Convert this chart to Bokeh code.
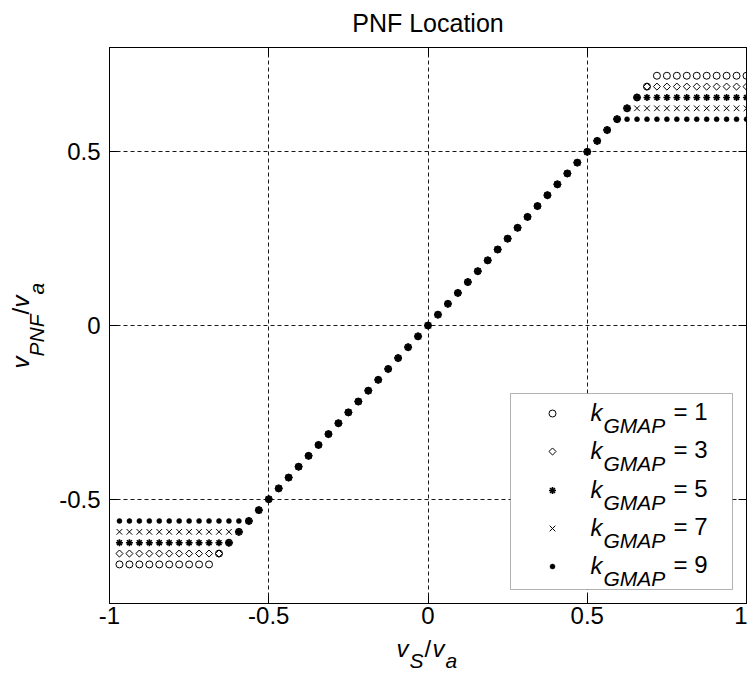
import math
from bokeh.plotting import figure
from bokeh.layouts import column, row
from bokeh.models import Range1d, LinearAxis, Label, BoxAnnotation, FixedTicker
from bokeh.embed import file_html
from bokeh.resources import INLINE

# ---------------- data (values read in units of 1/32) ----------------
vs_va_32 = [-31, -30, -29, -28, -27, -26, -25, -24, -23, -22, -21, -20, -19, -18, -17, -16,
            -15, -14, -13, -12, -11, -10, -9, -8, -7, -6, -5, -4, -3, -2, -1, 0,
            1, 2, 3, 4, 5, 6, 7, 8, 9, 10, 11, 12, 13, 14, 15, 16,
            17, 18, 19, 20, 21, 22, 23, 24, 25, 26, 27, 28, 29, 30, 31, 32]

vpnf_k1_32 = [-22, -22, -22, -22, -22, -22, -22, -22, -22, -22, -21, -20, -19, -18, -17, -16,
              -15, -14, -13, -12, -11, -10, -9, -8, -7, -6, -5, -4, -3, -2, -1, 0,
              1, 2, 3, 4, 5, 6, 7, 8, 9, 10, 11, 12, 13, 14, 15, 16,
              17, 18, 19, 20, 21, 22, 23, 23, 23, 23, 23, 23, 23, 23, 23, 23]
vpnf_k3_32 = [-21, -21, -21, -21, -21, -21, -21, -21, -21, -21, -21, -20, -19, -18, -17, -16,
              -15, -14, -13, -12, -11, -10, -9, -8, -7, -6, -5, -4, -3, -2, -1, 0,
              1, 2, 3, 4, 5, 6, 7, 8, 9, 10, 11, 12, 13, 14, 15, 16,
              17, 18, 19, 20, 21, 22, 22, 22, 22, 22, 22, 22, 22, 22, 22, 22]
vpnf_k5_32 = [-20, -20, -20, -20, -20, -20, -20, -20, -20, -20, -20, -20, -19, -18, -17, -16,
              -15, -14, -13, -12, -11, -10, -9, -8, -7, -6, -5, -4, -3, -2, -1, 0,
              1, 2, 3, 4, 5, 6, 7, 8, 9, 10, 11, 12, 13, 14, 15, 16,
              17, 18, 19, 20, 21, 21, 21, 21, 21, 21, 21, 21, 21, 21, 21, 21]
vpnf_k7_32 = [-19, -19, -19, -19, -19, -19, -19, -19, -19, -19, -19, -19, -19, -18, -17, -16,
              -15, -14, -13, -12, -11, -10, -9, -8, -7, -6, -5, -4, -3, -2, -1, 0,
              1, 2, 3, 4, 5, 6, 7, 8, 9, 10, 11, 12, 13, 14, 15, 16,
              17, 18, 19, 20, 20, 20, 20, 20, 20, 20, 20, 20, 20, 20, 20, 20]
vpnf_k9_32 = [-18, -18, -18, -18, -18, -18, -18, -18, -18, -18, -18, -18, -18, -18, -17, -16,
              -15, -14, -13, -12, -11, -10, -9, -8, -7, -6, -5, -4, -3, -2, -1, 0,
              1, 2, 3, 4, 5, 6, 7, 8, 9, 10, 11, 12, 13, 14, 15, 16,
              17, 18, 19, 19, 19, 19, 19, 19, 19, 19, 19, 19, 19, 19, 19, 19]

k_values = ["1", "3", "5", "7", "9"]
x_ticks = [-1, -0.5, 0, 0.5, 1]
x_tick_labels = {-1: "-1", -0.5: "-0.5", 0: "0", 0.5: "0.5", 1: "1"}
y_ticks = [-0.5, 0, 0.5]
y_tick_labels = {-0.5: "-0.5", 0: "0", 0.5: "0.5"}
title_text = "PNF Location"

vs_va = [v / 32 for v in vs_va_32]
series_y = [[v / 32 for v in s] for s in (vpnf_k1_32, vpnf_k3_32, vpnf_k5_32, vpnf_k7_32, vpnf_k9_32)]

# ---------------- layout geometry (global pixels) ----------------
W, H = 747, 678
TOP_H = 46          # title strip
YLAB_W = 56         # y-label strip
SPLIT_Y = 634       # start of x-label strip
FL, FR, FT, FB = 109, 746, 47, 603
XMIN, XMAX, YMIN, YMAX = -1.0, 1.0, -0.8, 0.8
FONT = "Liberation Sans"
MID = 0.3465        # baseline -> box-centre offset, in em


def X(px):
    return XMIN + (px - FL) / (FR - FL) * (XMAX - XMIN)


def Y(py):
    return YMAX - (py - FT) / (FB - FT) * (YMAX - YMIN)


def text_strip(w, h, yr):
    f = figure(width=w, height=h, output_backend="svg", toolbar_location=None,
               x_range=Range1d(0, w), y_range=Range1d(*yr),
               x_axis_type=None, y_axis_type=None, title_location=None,
               min_border=0, min_border_left=0, min_border_right=0,
               min_border_top=0, min_border_bottom=0)
    f.outline_line_color = None
    f.background_fill_color = "white"
    f.border_fill_color = "white"
    f.xgrid.visible = False
    f.ygrid.visible = False
    return f


def put(f, t, x, y, size, style="normal", angle=0.0, align="left"):
    f.add_layout(Label(x=x, y=y, text=t, text_font=FONT, text_font_size="%dpx" % size,
                       text_font_style=style, text_color="black", angle=angle,
                       text_align=align, text_baseline="middle"))


# ---------------- main plot ----------------
p = figure(width=W - YLAB_W, height=SPLIT_Y - TOP_H, output_backend="svg", toolbar_location=None,
           x_range=Range1d(XMIN, XMAX), y_range=Range1d(YMIN, YMAX),
           title_location=None,
           min_border_left=FL - YLAB_W, min_border_right=W - FR,
           min_border_top=FT - TOP_H, min_border_bottom=SPLIT_Y - FB)
p.background_fill_color = "white"
p.border_fill_color = "white"
p.outline_line_color = "black"
p.outline_line_width = 1

for ax, ticks, labels, so in ((p.xaxis[0], x_ticks, x_tick_labels, 3),
                              (p.yaxis[0], y_ticks, y_tick_labels, 9)):
    ax.ticker = FixedTicker(ticks=ticks)
    ax.major_label_overrides = labels
    ax.minor_tick_line_color = None
    ax.major_tick_in = 8
    ax.major_tick_out = 0
    ax.major_label_standoff = so
    ax.major_label_text_font = FONT
    ax.major_label_text_font_size = "24px"
    ax.major_label_text_color = "black"
    ax.axis_line_color = "black"
    ax.major_tick_line_color = "black"

for loc, ticks in (("above", x_ticks), ("right", y_ticks)):
    ax = LinearAxis(ticker=FixedTicker(ticks=ticks), major_label_text_font_size="0px",
                    major_label_text_color=None,
                    major_label_standoff=0, major_tick_in=8, major_tick_out=0,
                    minor_tick_line_color=None, axis_line_color="black",
                    major_tick_line_color="black")
    p.add_layout(ax, loc)

for g in (p.xgrid[0], p.ygrid[0]):
    g.grid_line_color = "black"
    g.grid_line_dash = "4 3"
    g.grid_line_width = 1
    g.grid_line_alpha = 0.9
p.xgrid[0].ticker = FixedTicker(ticks=x_ticks)
p.ygrid[0].ticker = FixedTicker(ticks=y_ticks)

styles = [
    dict(marker="circle", size=7, fill_color=None, line_color="black", line_width=1),
    dict(marker="square", size=5, angle=math.pi / 4, fill_color=None, line_color="black", line_width=1),
    dict(marker="asterisk", size=7, line_color="black", line_width=1.6),
    dict(marker="x", size=8, line_color="black", line_width=1),
    dict(marker="circle", size=5, fill_color="black", line_color="black", line_width=0.5),
]

for ys, st in zip(series_y, styles):
    p.scatter(vs_va, ys, **st)

# legend (manual, to keep the italic subscripted labels)
p.add_layout(BoxAnnotation(left=X(510), right=X(732), top=Y(393), bottom=Y(589),
                           fill_color="white", fill_alpha=1.0, line_color="black",
                           line_width=1, level="annotation"))
leg_y = [413, 451, 490, 528, 566]
for kv, st, yc in zip(k_values, styles, leg_y):
    r = p.scatter([X(552)], [Y(yc)], **st)
    r.level = "overlay"
    for t, px, base, fs, sty in (("k", 590, yc + 7, 24, "italic"),
                                 ("GMAP", 603, yc + 19, 21, "italic"),
                                 ("= " + kv, 673, yc + 6, 24, "normal")):
        p.add_layout(Label(x=X(px), y=Y(base - MID * fs), text=t, text_font=FONT,
                           text_font_style=sty, text_font_size="%dpx" % fs, text_color="black",
                           text_baseline="middle", level="overlay"))

# ---------------- title strip (local y = global y, downward) ----------------
tf = text_strip(W, TOP_H, (TOP_H, 0))
put(tf, title_text, 427.5, 31 - MID * 25, 25, align="center")

# ---------------- y-label strip: v_PNF / v_a (rotated); frame aligned to plot frame ----------------
yf = text_strip(YLAB_W, SPLIT_Y - TOP_H, (FB, FT))
for t, bx, gy, fs, sty in [("v", 28, 368, 24, "italic"), ("PNF", 43, 356, 21, "italic"),
                           ("/", 28, 314, 24, "normal"), ("v", 28, 307, 24, "italic"),
                           ("a", 43, 294, 21, "italic")]:
    put(yf, t, bx - MID * fs, gy, fs, sty, angle=math.pi / 2)

# ---------------- x-label strip: v_S / v_a ----------------
xf = text_strip(W, H - SPLIT_Y, (H - SPLIT_Y, 0))
for t, px, gy, fs, sty in [("v", 396, 656, 24, "italic"), ("S", 409, 667, 21, "italic"),
                           ("/", 424, 656, 24, "normal"), ("v", 432, 656, 24, "italic"),
                           ("a", 445, 667, 21, "italic")]:
    put(xf, t, px, gy - SPLIT_Y - MID * fs, fs, sty)

layout = column(tf, row(yf, p), xf)
open("out.html", "w").write(file_html(layout, INLINE))
